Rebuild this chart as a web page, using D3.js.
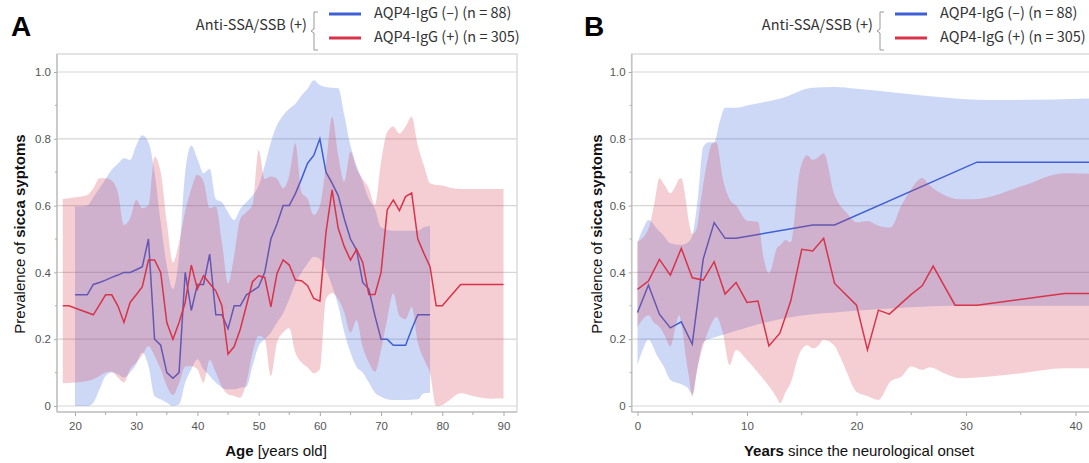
<!DOCTYPE html>
<html>
<head>
<meta charset="utf-8">
<script src="https://cdn.jsdelivr.net/npm/d3@7"></script>
<style>
  body { margin: 0; background: #fff; }
  svg { display: block; }
  text { font-family: Arial, "Liberation Sans", sans-serif; }
  .leg { font-family: "Noto Sans CJK JP", "Noto Sans", sans-serif; }
</style>
</head>
<body>
<svg id="chart" width="1089" height="463"></svg>
<script>
// ---- data: panel A (age) ----
const lineNegA = [[20,0.333],[21,0.333],[22,0.333],[23,0.364],[24,0.37],[25,0.377],[26,0.385],[27,0.392],[28,0.40],[29,0.40],[30,0.408],[31,0.417],[32,0.50],[33,0.20],[34,0.182],[35,0.10],[36,0.083],[37,0.10],[38,0.40],[39,0.286],[40,0.364],[41,0.364],[42,0.455],[43,0.273],[44,0.273],[45,0.231],[46,0.30],[47,0.30],[48,0.333],[49,0.345],[50,0.357],[51,0.40],[52,0.50],[53,0.545],[54,0.60],[55,0.60],[56,0.636],[57,0.68],[58,0.727],[59,0.75],[60,0.80],[61,0.70],[62,0.667],[63,0.63],[64,0.56],[65,0.50],[66,0.467],[67,0.37],[68,0.35],[69,0.27],[70,0.20],[71,0.20],[72,0.182],[73,0.182],[74,0.182],[75,0.23],[76,0.273],[77,0.273],[78,0.273]];

const linePosA = [[18,0.30],[19,0.30],[23,0.273],[25,0.333],[26,0.333],[27,0.30],[28,0.25],[29,0.31],[30,0.333],[31,0.357],[32,0.437],[33,0.437],[34,0.40],[35,0.25],[36,0.20],[37,0.25],[38,0.31],[39,0.422],[40,0.35],[41,0.39],[42,0.367],[43,0.345],[44,0.30],[45,0.155],[46,0.178],[47,0.23],[48,0.30],[49,0.372],[50,0.39],[51,0.385],[52,0.297],[53,0.397],[54,0.437],[55,0.422],[56,0.377],[57,0.375],[58,0.36],[59,0.322],[60,0.314],[61,0.52],[62,0.647],[63,0.532],[64,0.477],[65,0.437],[66,0.469],[67,0.43],[68,0.334],[69,0.334],[70,0.40],[71,0.587],[72,0.617],[73,0.585],[74,0.627],[75,0.638],[76,0.50],[77,0.457],[78,0.417],[79,0.30],[80,0.30],[83,0.364],[90,0.364]];

// [age, lower, upper]
const bandNegA = [[20,0.0,0.597],[21,0.0,0.597],[22,0.0,0.60],[23,0.01,0.625],[24,0.05,0.652],[25,0.09,0.68],[26,0.10,0.707],[27,0.095,0.725],[28,0.085,0.742],[29,0.10,0.737],[30,0.125,0.78],[31,0.16,0.811],[32,0.12,0.79],[33,0.03,0.70],[34,0.02,0.55],[35,0.01,0.42],[36,0.0,0.35],[37,0.005,0.45],[38,0.07,0.70],[39,0.11,0.78],[40,0.14,0.74],[41,0.11,0.697],[42,0.09,0.71],[43,0.07,0.62],[44,0.055,0.61],[45,0.05,0.58],[46,0.05,0.557],[47,0.055,0.59],[48,0.058,0.61],[49,0.12,0.63],[50,0.18,0.66],[51,0.20,0.72],[52,0.22,0.79],[53,0.25,0.841],[54,0.278,0.87],[55,0.32,0.89],[56,0.367,0.905],[57,0.40,0.93],[58,0.427,0.95],[59,0.447,0.975],[60,0.44,0.961],[61,0.407,0.955],[62,0.36,0.953],[63,0.30,0.951],[64,0.22,0.87],[65,0.16,0.78],[66,0.117,0.72],[67,0.10,0.67],[68,0.07,0.62],[69,0.04,0.59],[70,0.028,0.535],[72,0.018,0.525],[74,0.018,0.525],[76,0.02,0.525],[77,0.038,0.535],[78,0.04,0.54]];

const bandPosA = [[18,0.068,0.62],[20,0.07,0.625],[22,0.075,0.632],[23,0.08,0.652],[24,0.09,0.682],[25,0.10,0.682],[26,0.103,0.675],[27,0.085,0.64],[28,0.07,0.542],[29,0.11,0.562],[30,0.13,0.617],[31,0.153,0.592],[32,0.18,0.60],[33,0.15,0.746],[34,0.11,0.70],[35,0.06,0.55],[36,0.033,0.43],[37,0.068,0.49],[38,0.118,0.582],[39,0.12,0.65],[40,0.11,0.692],[41,0.07,0.672],[42,0.138,0.592],[43,0.10,0.597],[44,0.058,0.49],[45,0.035,0.367],[46,0.03,0.45],[47,0.025,0.56],[48,0.07,0.58],[49,0.16,0.603],[50,0.21,0.766],[51,0.20,0.68],[52,0.09,0.687],[53,0.19,0.68],[54,0.22,0.652],[55,0.233,0.69],[56,0.16,0.786],[57,0.13,0.64],[58,0.115,0.62],[59,0.098,0.572],[60,0.11,0.60],[61,0.32,0.72],[62,0.338,0.866],[63,0.32,0.751],[64,0.28,0.672],[65,0.22,0.761],[66,0.257,0.71],[67,0.177,0.68],[68,0.13,0.652],[69,0.103,0.602],[70,0.168,0.731],[71,0.26,0.82],[72,0.337,0.837],[73,0.27,0.816],[74,0.26,0.837],[75,0.297,0.866],[76,0.19,0.78],[77,0.14,0.72],[78,0.097,0.667],[79,0.0,0.662],[80,0.003,0.66],[81,0.015,0.655],[83,0.038,0.65],[85,0.03,0.65],[88,0.022,0.65],[90,0.023,0.65]];

// ---- data: panel B (years since onset) ----
const lineNegB = [[0,0.28],[1,0.362],[2,0.275],[3,0.234],[4,0.252],[5,0.185],[6,0.44],[7,0.549],[8,0.502],[9,0.502],[16,0.542],[18,0.542],[31,0.73],[42,0.73]];

const linePosB = [[0,0.349],[1,0.374],[2,0.439],[3,0.392],[4,0.472],[5,0.384],[6,0.377],[7,0.432],[8,0.335],[9,0.37],[10,0.31],[11,0.314],[12,0.18],[13,0.218],[14,0.315],[15,0.469],[16,0.464],[17,0.502],[18,0.367],[20,0.302],[21,0.168],[22,0.287],[23,0.275],[25,0.334],[26,0.36],[27,0.419],[29,0.302],[31,0.302],[39,0.337],[42,0.337]];

const bandNegB = [[0,0.123,0.49],[0.5,0.17,0.53],[1,0.198,0.557],[1.8,0.15,0.53],[2.4,0.118,0.51],[3,0.078,0.487],[4,0.065,0.482],[4.6,0.053,0.49],[5,0.035,0.51],[5.5,0.12,0.62],[6,0.19,0.776],[6.5,0.20,0.79],[7,0.205,0.79],[7.5,0.21,0.85],[8,0.215,0.893],[9,0.225,0.893],[10,0.235,0.90],[13,0.26,0.92],[16,0.275,0.953],[18,0.28,0.955],[20,0.285,0.95],[23,0.292,0.94],[26,0.297,0.93],[29,0.30,0.921],[33,0.30,0.916],[38,0.30,0.918],[42,0.30,0.921]];

const bandPosB = [[0,0.237,0.492],[1,0.272,0.53],[1.5,0.25,0.60],[2,0.237,0.682],[2.5,0.21,0.66],[3,0.178,0.637],[3.5,0.24,0.66],[3.8,0.272,0.68],[4,0.25,0.682],[4.4,0.15,0.62],[4.7,0.088,0.55],[5,0.028,0.515],[5.4,0.10,0.53],[5.8,0.158,0.62],[6.3,0.21,0.72],[6.8,0.25,0.785],[7.2,0.267,0.79],[7.8,0.218,0.68],[8.4,0.123,0.62],[9,0.168,0.60],[10,0.138,0.555],[11,0.10,0.552],[11.5,0.08,0.447],[12,0.06,0.397],[12.8,0.02,0.477],[13,0.008,0.48],[13.5,0.04,0.497],[14,0.07,0.49],[14.8,0.158,0.70],[15.5,0.182,0.751],[16,0.173,0.737],[16.5,0.18,0.745],[17,0.198,0.757],[18,0.18,0.632],[18.5,0.148,0.60],[19,0.11,0.582],[20,0.043,0.55],[21,0.03,0.554],[22,0.018,0.54],[23.1,0.073,0.534],[24.1,0.088,0.60],[25,0.118,0.65],[26,0.108,0.683],[26.7,0.116,0.66],[28,0.098,0.632],[29.5,0.083,0.619],[31,0.085,0.62],[35,0.098,0.657],[39,0.113,0.697],[42,0.113,0.694]];

// ---- ticks / labels ----
const yTicks = [0, 0.2, 0.4, 0.6, 0.8, 1.0];
const yMinor = [0.1, 0.3, 0.5, 0.7, 0.9];
const xTicksA = [20, 30, 40, 50, 60, 70, 80, 90];
const xMinorA = [25, 35, 45, 55, 65, 75, 85];
const xTicksB = [0, 10, 20, 30, 40];
const xMinorB = [5, 15, 25, 35];
const legendTitle = "Anti-SSA/SSB (+)";
const seriesNames = ["AQP4-IgG (\u2013) (n = 88)", "AQP4-IgG (+) (n = 305)"];

const blue = "#3f5fd4", red = "#d7334a";
const blueFill = "#4670e1", redFill = "#d73c50";

const svg = d3.select("#chart");
const frameTop = 54, frameBottom = 412;
const y = d3.scaleLinear().domain([0, 1]).range([406, 72]);

const panels = [
  { id: "A", left: 57, right: 517, domain: [20, 90], range: [75, 503.5],
    ticks: xTicksA, minor: xMinorA, neg: lineNegA, pos: linePosA, bandNeg: bandNegA, bandPos: bandPosA,
    xBold: "Age", xRest: " [years old]", xMid: 276, yTitleX: 20, letterX: 11, textX: 374 },
  { id: "B", left: 631.7, right: 1110, domain: [0, 40], range: [637.5, 1075.5],
    ticks: xTicksB, minor: xMinorB, neg: lineNegB, pos: linePosB, bandNeg: bandNegB, bandPos: bandPosB,
    xBold: "Years", xRest: " since the neurological onset", xMid: 859, yTitleX: 597, letterX: 584, textX: 940 }
];

panels.forEach(p => {
  const x = d3.scaleLinear().domain(p.domain).range(p.range);
  const g = svg.append("g");

  svg.append("clipPath").attr("id", "clip" + p.id)
    .append("rect")
    .attr("x", p.left).attr("y", frameTop)
    .attr("width", p.right - p.left).attr("height", frameBottom - frameTop);

  // gridlines
  g.selectAll("line.grid").data(yTicks).join("line")
    .attr("class", "grid")
    .attr("x1", p.left).attr("x2", p.right)
    .attr("y1", d => y(d)).attr("y2", d => y(d))
    .attr("stroke", "#d5d5d5").attr("stroke-width", 1.2);

  const plot = g.append("g").attr("clip-path", `url(#clip${p.id})`);
  const area = d3.area()
    .x(d => x(d[0])).y0(d => y(d[1])).y1(d => y(d[2]))
    .curve(d3.curveMonotoneX);
  const line = d3.line().x(d => x(d[0])).y(d => y(d[1]));

  plot.append("path").datum(p.bandNeg).attr("d", area)
    .attr("fill", blueFill).attr("fill-opacity", 0.27);
  plot.append("path").datum(p.neg).attr("d", line)
    .attr("fill", "none").attr("stroke", blue).attr("stroke-width", 1.5);
  plot.append("path").datum(p.bandPos).attr("d", area)
    .attr("fill", redFill).attr("fill-opacity", 0.25);
  plot.append("path").datum(p.pos).attr("d", line)
    .attr("fill", "none").attr("stroke", red).attr("stroke-width", 1.5);

  // frame
  g.append("rect")
    .attr("x", p.left).attr("y", frameTop)
    .attr("width", p.right - p.left).attr("height", frameBottom - frameTop)
    .attr("fill", "none").attr("stroke", "#d2d2d2").attr("stroke-width", 1.2);
  g.append("line").attr("x1", p.left).attr("x2", p.left)
    .attr("y1", frameTop).attr("y2", frameBottom)
    .attr("stroke", "#c4c4c4").attr("stroke-width", 1.6);
  g.append("line").attr("x1", p.left).attr("x2", p.right)
    .attr("y1", frameBottom).attr("y2", frameBottom)
    .attr("stroke", "#c4c4c4").attr("stroke-width", 1.6);

  // x axis
  const xa = g.append("g").attr("transform", `translate(0,${frameBottom})`)
    .call(d3.axisBottom(x).tickValues(p.ticks).tickSize(4).tickPadding(6).tickFormat(d3.format("d")));
  xa.select(".domain").remove();
  xa.selectAll("line").attr("stroke", "#aaa");
  xa.selectAll("text").attr("fill", "#555").style("font-size", "11.5px").style("font-family", "Arial, 'Liberation Sans', sans-serif");
  g.selectAll("line.xminor").data(p.minor).join("line")
    .attr("class", "xminor")
    .attr("x1", d => x(d)).attr("x2", d => x(d))
    .attr("y1", frameBottom).attr("y2", frameBottom + 3)
    .attr("stroke", "#aaa");

  // y axis
  const ya = g.append("g").attr("transform", `translate(${p.left},0)`)
    .call(d3.axisLeft(y).tickValues(yTicks).tickSize(3).tickPadding(3)
      .tickFormat(d => d === 0 ? "0" : d.toFixed(1)));
  ya.select(".domain").remove();
  ya.selectAll("line").attr("stroke", "#aaa");
  ya.selectAll("text").attr("fill", "#555").style("font-size", "11.5px").style("font-family", "Arial, 'Liberation Sans', sans-serif");
  g.selectAll("line.yminor").data(yMinor).join("line")
    .attr("class", "yminor")
    .attr("x1", p.left - 2).attr("x2", p.left)
    .attr("y1", d => y(d)).attr("y2", d => y(d))
    .attr("stroke", "#aaa");

  // axis titles
  const xt = g.append("text").attr("x", p.xMid).attr("y", 456)
    .attr("text-anchor", "middle").attr("fill", "#111").style("font-size", "15px");
  xt.append("tspan").attr("font-weight", "bold").text(p.xBold);
  xt.append("tspan").text(p.xRest);

  const yt = g.append("text")
    .attr("transform", `translate(${p.yTitleX},234) rotate(-90)`)
    .attr("text-anchor", "middle").attr("dy", "0.35em").attr("fill", "#111").style("font-size", "15px");
  yt.append("tspan").text("Prevalence of ");
  yt.append("tspan").attr("font-weight", "bold").text("sicca syptoms");

  // panel letter
  g.append("text").attr("x", p.letterX).attr("y", 36)
    .attr("font-weight", "bold").style("font-size", "28px").attr("fill", "#000").text(p.id);

  // legend
  const tx = p.textX;
  const lg = g.append("g");
  lg.append("text").attr("class", "leg")
    .attr("x", tx - 67).attr("y", 30).attr("text-anchor", "end")
    .attr("fill", "#333").style("font-size", "14.5px").text(legendTitle);
  lg.append("path")
    .attr("d", `M${tx - 56},12 L${tx - 60},12 L${tx - 60},29 L${tx - 63},31 L${tx - 60},33 L${tx - 60},50 L${tx - 56},50`)
    .attr("fill", "none").attr("stroke", "#999").attr("stroke-width", 1);
  [blue, red].forEach((c, i) => {
    const yy = 14 + i * 24;
    lg.append("line").attr("x1", tx - 45).attr("x2", tx - 13)
      .attr("y1", yy).attr("y2", yy)
      .attr("stroke", c).attr("stroke-width", 3);
    lg.append("text").attr("class", "leg")
      .attr("x", tx).attr("y", yy + 4)
      .attr("fill", "#333").style("font-size", "14.5px").text(seriesNames[i]);
  });
});
</script>
</body>
</html>
